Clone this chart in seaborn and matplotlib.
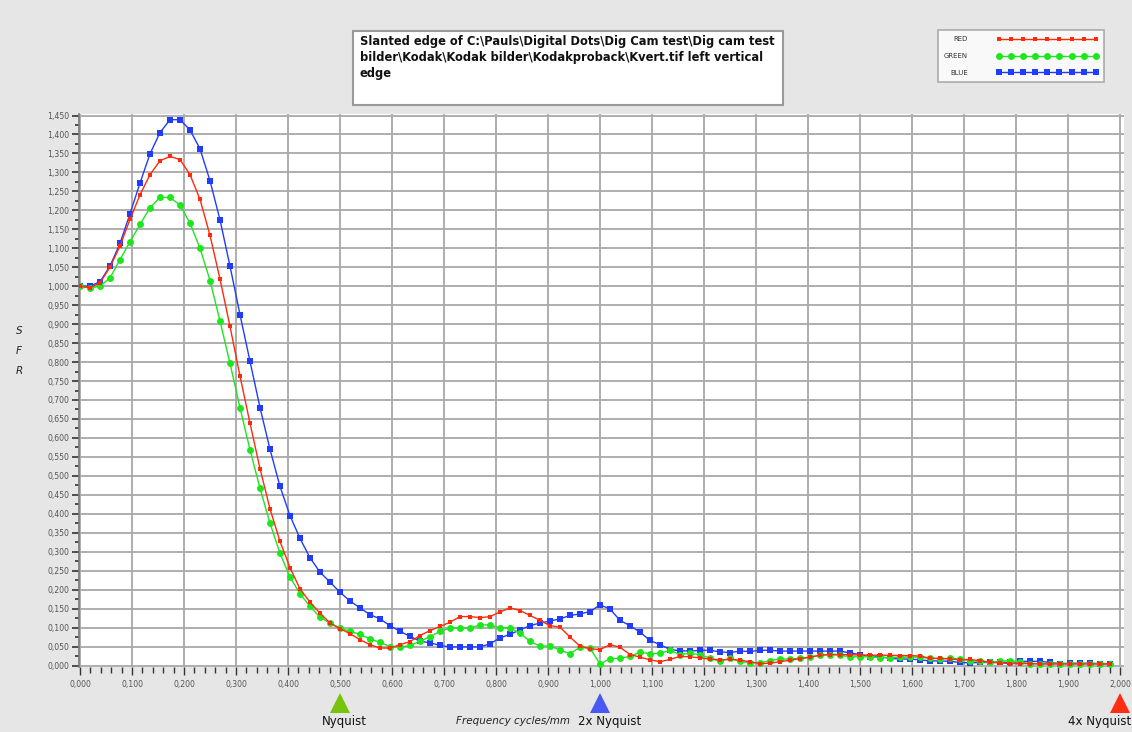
import numpy as np
import pandas as pd
import matplotlib
matplotlib.use("Agg")
import matplotlib.pyplot as plt
from matplotlib import transforms
from matplotlib.patches import Rectangle
from matplotlib.ticker import MultipleLocator, FuncFormatter
import seaborn as sns

# ---- data: spatial frequency (cycles/mm) sampled every 1/52 ----
freq = np.arange(104) / 52.0

red = [
    1.000, 0.996, 1.009, 1.050, 1.106, 1.176, 1.241, 1.294, 1.331, 1.342, 1.334, 1.294, 1.229, 1.134, 1.019, 0.894,
    0.763, 0.639, 0.519, 0.413, 0.327, 0.258,
    0.202, 0.167, 0.138, 0.112, 0.097, 0.084, 0.068, 0.055, 0.046, 0.046, 0.055, 0.063, 0.079, 0.092, 0.103, 0.114,
    0.129, 0.129, 0.126, 0.129, 0.141, 0.152, 0.145, 0.132, 0.119, 0.105, 0.101, 0.075, 0.051, 0.044, 0.042, 0.055,
    0.048, 0.029, 0.022, 0.015, 0.010,
    0.016, 0.024, 0.023, 0.020, 0.017, 0.015, 0.016, 0.014, 0.010, 0.005, 0.006, 0.010, 0.014, 0.018, 0.022, 0.027,
    0.029, 0.029, 0.028, 0.028, 0.027, 0.027, 0.027, 0.026,
    0.026, 0.025, 0.019, 0.019, 0.017, 0.015, 0.016, 0.0125, 0.009, 0.007, 0.005, 0.005, 0.005, 0.004, 0.004, 0.004,
    0.004, 0.004, 0.004, 0.004, 0.004,
]

green = [
    1.000, 0.995, 1.000, 1.022, 1.070, 1.117, 1.163, 1.207, 1.234, 1.234, 1.214, 1.166, 1.100, 1.015, 0.908,
    0.797, 0.679, 0.569, 0.467, 0.375, 0.296, 0.233,
    0.189, 0.156, 0.127, 0.112, 0.099, 0.090, 0.082, 0.070, 0.061, 0.050, 0.048, 0.053, 0.064, 0.076, 0.090, 0.099,
    0.099, 0.099, 0.107, 0.107, 0.099, 0.099, 0.085, 0.064, 0.051, 0.051, 0.041, 0.031, 0.048, 0.046, 0.004, 0.018,
    0.019, 0.024, 0.035, 0.031, 0.032,
    0.040, 0.029, 0.032, 0.029, 0.019, 0.011, 0.019, 0.011, 0.007, 0.007, 0.013, 0.017, 0.017, 0.019, 0.022, 0.027,
    0.029, 0.027, 0.023, 0.023, 0.023, 0.021, 0.021, 0.022,
    0.022, 0.022, 0.019, 0.018, 0.019, 0.018, 0.0125, 0.011, 0.008, 0.011, 0.013, 0.009, 0.005, 0.005, 0.005, 0.005,
    0.005, 0.005, 0.005, 0.005, 0.004,
]

blue = [
    1.000, 1.000, 1.012, 1.053, 1.113, 1.191, 1.272, 1.349, 1.405, 1.439, 1.439, 1.412, 1.362, 1.278, 1.175, 1.053, 0.925,
    0.802, 0.680, 0.570, 0.472, 0.395, 0.335, 0.284, 0.246, 0.220,
    0.193, 0.170, 0.152, 0.134, 0.123, 0.105, 0.090, 0.077, 0.064, 0.060, 0.053, 0.049, 0.049, 0.049, 0.049,
    0.057, 0.073, 0.082, 0.094, 0.105, 0.112, 0.117, 0.123, 0.132, 0.136, 0.142, 0.160, 0.149, 0.119, 0.105, 0.088,
    0.066, 0.055,
    0.042, 0.039, 0.038, 0.040, 0.040, 0.036, 0.034, 0.038, 0.037, 0.040, 0.040, 0.038, 0.038, 0.038, 0.038, 0.038,
    0.038, 0.038, 0.033, 0.029, 0.023, 0.023, 0.019, 0.017,
    0.017, 0.015, 0.012, 0.012, 0.011, 0.008, 0.007, 0.008, 0.008, 0.008, 0.008, 0.011, 0.011, 0.011, 0.008, 0.005,
    0.006, 0.006, 0.006, 0.005, 0.005,
]

channels = ["RED", "GREEN", "BLUE"]
nyquist_freqs = [0.5, 1.0, 2.0]
nyquist_labels = ["Nyquist", "2x Nyquist", "4x Nyquist"]

title = ("Slanted edge of C:\\Pauls\\Digital Dots\\Dig Cam test\\Dig cam test\n"
         "bilder\\Kodak\\Kodak bilder\\Kodakproback\\Kvert.tif left vertical\n"
         "edge")

df = pd.DataFrame({
    "freq": np.concatenate([freq, freq, freq]),
    "sfr": np.concatenate([red, green, blue]),
    "channel": np.repeat(channels, len(freq)),
})

# ---- styling ----
sns.set_style("white")
plt.rcParams["font.family"] = ["DejaVu Sans"]

W, H = 1132, 732
fig = plt.figure(figsize=(W / 100, H / 100), dpi=100, facecolor="#e6e6e6")

x0, x1 = -0.002, 2.008
y0, y1 = -0.005, 1.455
px_per_x = 520.0
px_per_y = 379.3
left_px = 80 + x0 * px_per_x
right_px = 80 + x1 * px_per_x
top_px = 665.5 - y1 * px_per_y
bot_px = 665.5 - y0 * px_per_y
ax = fig.add_axes([left_px / W, 1 - bot_px / H, (right_px - left_px) / W, (bot_px - top_px) / H])
ax.set_facecolor("white")

colors = {"RED": "#ff2a0a", "GREEN": "#1de61d", "BLUE": "#1f3cff"}
markers = {"RED": "s", "GREEN": "o", "BLUE": "s"}
msizes = {"RED": 3.2, "GREEN": 5.0, "BLUE": 4.8}

# blue underneath, red on top
for ch in ["BLUE", "GREEN", "RED"]:
    sns.lineplot(data=df[df["channel"] == ch], x="freq", y="sfr", ax=ax,
                 color=colors[ch], marker=markers[ch], markersize=msizes[ch],
                 markeredgewidth=0, linewidth=1.0, label=ch, zorder=3)

ax.set_xlim(x0, x1)
ax.set_ylim(y0, y1)

comma = FuncFormatter(lambda v, p: f"{v:.3f}".replace(".", ","))
ax.xaxis.set_major_locator(MultipleLocator(0.1))
ax.xaxis.set_minor_locator(MultipleLocator(0.02))
ax.yaxis.set_major_locator(MultipleLocator(0.05))
ax.yaxis.set_minor_locator(MultipleLocator(0.025))
ax.xaxis.set_major_formatter(comma)
ax.yaxis.set_major_formatter(comma)

ax.grid(True, which="major", color="#a8a8a8", linewidth=1.3)
ax.set_axisbelow(True)

for side in ["top", "right", "bottom"]:
    ax.spines[side].set_visible(False)
ax.spines["left"].set_color("#7a7a7a")
ax.spines["left"].set_linewidth(1.2)

ax.tick_params(axis="y", which="major", direction="out", length=5, width=1.2, color="#333333",
               labelsize=5.6, labelcolor="#555555", pad=2, left=True)
ax.tick_params(axis="y", which="minor", direction="out", length=3, width=1.2, color="#333333", left=True)
ax.tick_params(axis="x", which="major", direction="out", length=6, width=1.0, color="#333333",
               labelsize=5.6, labelcolor="#555555", pad=3, bottom=True)
ax.tick_params(axis="x", which="minor", direction="out", length=4, width=1.0, color="#333333", bottom=True)

ax.set_xlabel("Frequency cycles/mm", fontsize=7.5, fontstyle="italic", color="#222222", va="center")
ax.xaxis.set_label_coords((513 - left_px) / (right_px - left_px), -(721 - bot_px) / (bot_px - top_px))
ax.set_ylabel("S\nF\nR", rotation=0, fontsize=7.5, fontstyle="italic", color="#222222",
              linespacing=2.3, va="center", ha="center")
ax.yaxis.set_label_coords(-(left_px - 19) / (right_px - left_px), (bot_px - 351) / (bot_px - top_px))

# legend box (top right), channels in RED / GREEN / BLUE order
handles, labels = ax.get_legend_handles_labels()
order = [labels.index(ch) for ch in channels]
leg = ax.legend([handles[i] for i in order], [labels[i] for i in order],
                loc="upper right", bbox_to_anchor=(1104 / W, 1 - 30 / H), bbox_transform=fig.transFigure,
                markerfirst=False, numpoints=9, handlelength=14.5, handletextpad=4.2,
                fontsize=5, labelspacing=1.55, borderpad=0.9, frameon=True, fancybox=False,
                borderaxespad=0)
leg.get_frame().set_edgecolor("#9a9a9a")
leg.get_frame().set_linewidth(1.2)
for t in leg.get_texts():
    t.set_color("#333333")

# title box
fig.patches.append(Rectangle((353 / W, 1 - 105 / H), (783 - 353) / W, (105 - 31) / H,
                             transform=fig.transFigure, facecolor="white", edgecolor="#9a9a9a",
                             linewidth=1.5, zorder=0))
fig.text(360 / W, 1 - 35 / H, title, fontsize=8.3, fontweight="bold", va="top", ha="left",
         linespacing=1.3, color="#111111")

# Nyquist markers below the frequency axis
blend = transforms.blended_transform_factory(ax.transData, fig.transFigure)
tri_colors = ["#78c40a", "#4a57f2", "#ff2e12"]
text_dx = [-18, -22, -52]
for f, lab, c, dx in zip(nyquist_freqs, nyquist_labels, tri_colors, text_dx):
    ax.plot([f], [1 - 703 / H], marker="^", markersize=15, color=c, markeredgewidth=0,
            transform=blend, clip_on=False, zorder=5)
    ax.annotate(lab, xy=(f, 1 - 722 / H), xycoords=blend, xytext=(dx * 0.72, 0),
                textcoords="offset points", ha="left", va="center", fontsize=8.5,
                color="#111111", annotation_clip=False)

fig.savefig("out.png", dpi=100, facecolor=fig.get_facecolor())
